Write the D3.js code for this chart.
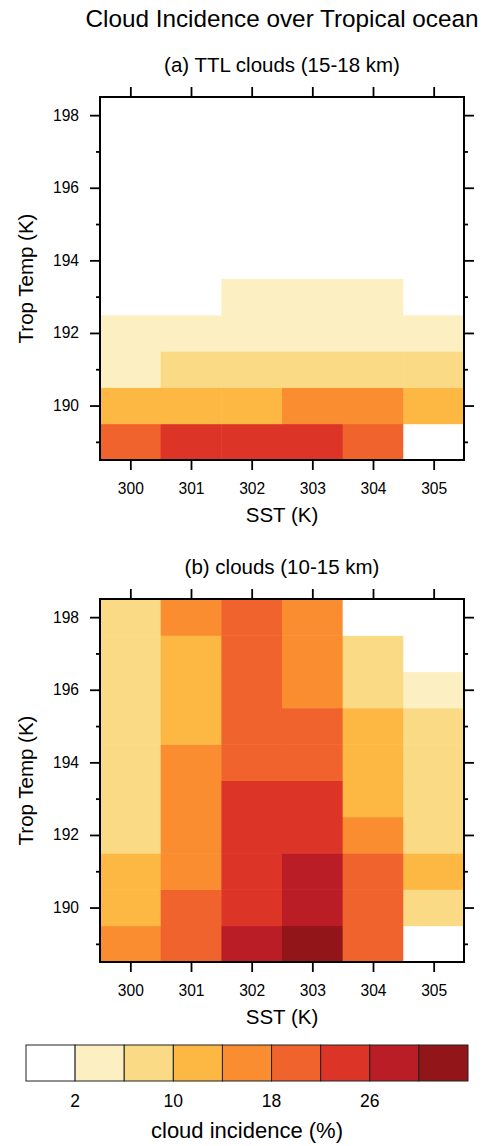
<!DOCTYPE html>
<html>
<head>
<meta charset="utf-8">
<script src="https://cdn.jsdelivr.net/npm/d3@7"></script>
<style>
body { margin: 0; background: #fff; }
text { font-family: "Liberation Sans", Arial, Helvetica, sans-serif; fill: #000; }
.tick text { font-size: 15.6px; }
.tick line { stroke: #000; stroke-width: 1.8; }
</style>
</head>
<body>
<svg id="chart" width="488" height="1146"></svg>
<script>
var sstValues = [300, 301, 302, 303, 304, 305];
var tropTemps = [189, 190, 191, 192, 193, 194, 195, 196, 197, 198];

// rows follow tropTemps (189 -> 198), columns follow sstValues
var ttlClouds = [
  [20.5, 24.8, 25.3, 23.9, 19.6, 1.2],
  [12.4, 13.1, 13.8, 15.2, 14.6, 11.3],
  [5.1, 7.4, 8.6, 9.2, 8.8, 7.9],
  [3.2, 3.9, 4.8, 5.3, 4.9, 3.6],
  [1.1, 1.6, 2.4, 2.9, 2.3, 1.5],
  [0.5, 0.8, 1.2, 1.4, 1.1, 0.6],
  [0.3, 0.5, 0.7, 0.8, 0.6, 0.2],
  [0.1, 0.3, 0.4, 0.5, 0.3, 0.1],
  [0.1, 0.1, 0.2, 0.3, 0.2, 0.0],
  [0.0, 0.1, 0.1, 0.1, 0.1, 0.0]
];

var upperClouds = [
  [16.2, 19.4, 27.5, 31.6, 20.3, 1.3],
  [12.1, 18.7, 25.6, 27.8, 19.5, 7.9],
  [11.0, 17.1, 24.8, 26.4, 18.4, 10.6],
  [9.3, 16.3, 23.9, 25.2, 15.8, 8.8],
  [8.7, 15.6, 22.7, 23.5, 13.6, 8.1],
  [8.1, 14.4, 21.5, 21.4, 12.1, 7.4],
  [7.6, 13.2, 20.8, 18.6, 10.7, 6.3],
  [7.2, 12.5, 20.1, 17.3, 9.4, 4.1],
  [6.9, 11.8, 19.5, 16.1, 6.8, 1.6],
  [6.5, 14.3, 18.9, 15.4, 1.5, 0.8]
];

var levels = [2, 6, 10, 14, 18, 22, 26, 30];
var levelColors = ["#ffffff", "#fcf0c2", "#fbda86", "#fdb844", "#f98d2f",
                   "#f0632c", "#dd3428", "#bb1d26", "#911519"];
var colorbarLabels = [2, 10, 18, 26];
var yMajorTicks = [190, 192, 194, 196, 198];
var yMinorTicks = [189, 191, 193, 195, 197];

var svg = d3.select("#chart");
var color = d3.scaleThreshold().domain(levels).range(levelColors);

var plotLeft = 100, plotW = 364, plotH = 363;
var x = d3.scaleLinear().domain([299.5, 305.5]).range([0, plotW]);
var y = d3.scaleLinear().domain([188.5, 198.5]).range([plotH, 0]);

svg.append("text")
  .attr("x", 282).attr("y", 27)
  .attr("text-anchor", "middle")
  .style("font-size", "24.3px")
  .text("Cloud Incidence over Tropical ocean");

function drawPanel(top, title, grid) {
  var g = svg.append("g").attr("transform", `translate(${plotLeft},${top})`);

  var cells = [];
  tropTemps.forEach(function(t, i) {
    sstValues.forEach(function(s, j) {
      cells.push({ sst: s, temp: t, value: grid[i][j] });
    });
  });

  g.selectAll("rect.cell")
    .data(cells)
    .enter()
    .append("rect")
    .attr("class", "cell")
    .attr("x", d => x(d.sst - 0.5))
    .attr("y", d => y(d.temp + 0.5))
    .attr("width", d => x(d.sst + 0.5) - x(d.sst - 0.5) + 0.5)
    .attr("height", d => y(d.temp - 0.5) - y(d.temp + 0.5) + 0.5)
    .attr("fill", d => color(d.value));

  // ticks on all four sides, pointing out
  g.append("g")
    .attr("transform", `translate(0,${plotH})`)
    .call(d3.axisBottom(x).tickValues(sstValues).tickSize(10).tickPadding(13).tickFormat(d3.format("d")));
  g.append("g")
    .call(d3.axisTop(x).tickValues(sstValues).tickSize(10).tickFormat(""));
  g.append("g")
    .call(d3.axisLeft(y).tickValues(yMajorTicks).tickSize(10).tickPadding(11).tickFormat(d3.format("d")));
  g.append("g")
    .call(d3.axisLeft(y).tickValues(yMinorTicks).tickSize(4).tickFormat(""));
  g.append("g")
    .attr("transform", `translate(${plotW},0)`)
    .call(d3.axisRight(y).tickValues(yMajorTicks).tickSize(10).tickFormat(""));
  g.append("g")
    .attr("transform", `translate(${plotW},0)`)
    .call(d3.axisRight(y).tickValues(yMinorTicks).tickSize(4).tickFormat(""));
  g.selectAll(".domain").remove();

  g.append("rect")
    .attr("width", plotW).attr("height", plotH)
    .attr("fill", "none").attr("stroke", "#000").attr("stroke-width", 2);

  g.append("text")
    .attr("x", plotW / 2).attr("y", -25)
    .attr("text-anchor", "middle")
    .style("font-size", "20.5px")
    .text(title);

  g.append("text")
    .attr("x", plotW / 2).attr("y", plotH + 62)
    .attr("text-anchor", "middle")
    .style("font-size", "20.5px")
    .text("SST (K)");

  g.append("text")
    .attr("transform", `translate(${33 - plotLeft},${plotH / 2}) rotate(-90)`)
    .attr("text-anchor", "middle")
    .style("font-size", "20.5px")
    .text("Trop Temp (K)");
}

drawPanel(97, "(a) TTL clouds (15-18 km)", ttlClouds);
drawPanel(599, "(b) clouds (10-15 km)", upperClouds);

// colorbar
var cbX = d3.scaleBand().domain(d3.range(levelColors.length)).range([26, 468]).padding(0);
var cb = svg.append("g");
cb.selectAll("rect")
  .data(levelColors)
  .enter()
  .append("rect")
  .attr("x", (d, i) => cbX(i))
  .attr("y", 1045)
  .attr("width", cbX.bandwidth())
  .attr("height", 36)
  .attr("fill", d => d)
  .attr("stroke", "#222")
  .attr("stroke-width", 1);

cb.selectAll("text.cblab")
  .data(colorbarLabels)
  .enter()
  .append("text")
  .attr("class", "cblab")
  .attr("x", d => cbX(levels.indexOf(d) + 1))
  .attr("y", 1107)
  .attr("text-anchor", "middle")
  .style("font-size", "17.5px")
  .text(d => d);

svg.append("text")
  .attr("x", 247).attr("y", 1138)
  .attr("text-anchor", "middle")
  .style("font-size", "22px")
  .text("cloud incidence (%)");
</script>
</body>
</html>
